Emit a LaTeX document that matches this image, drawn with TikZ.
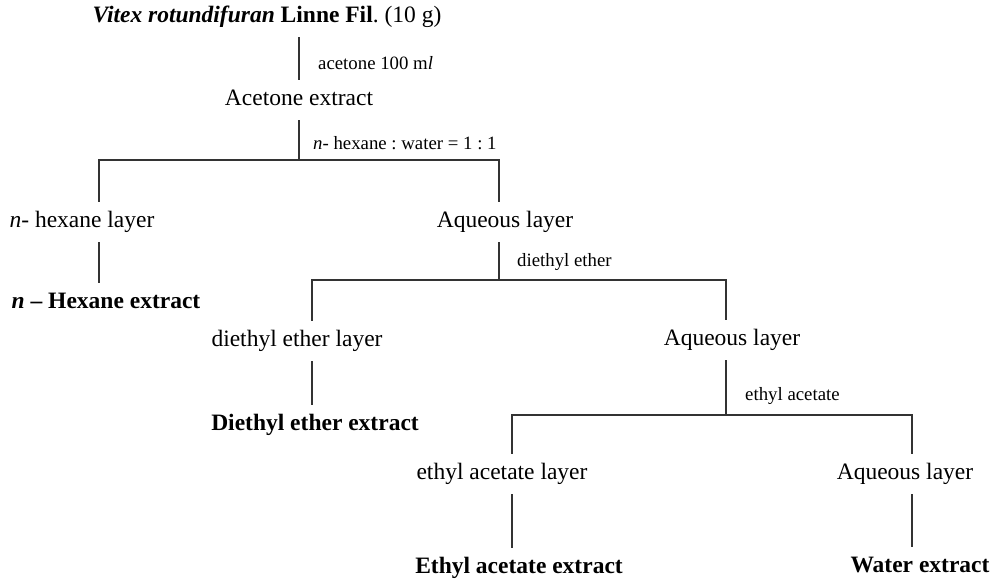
\documentclass[tikz,border=0pt]{standalone}
\usepackage{fontspec}
\setmainfont{Liberation Serif}
\frenchspacing
\begin{document}
\begin{tikzpicture}[x=1pt,y=-1pt,
  lbl/.style={inner xsep=0pt, inner ysep=9.5pt, text height=16pt, text depth=5pt,
              font=\fontsize{23.5}{28}\selectfont},
  note/.style={anchor=west, inner sep=0pt, font=\fontsize{18.8}{22}\selectfont},
  link/.style={line width=1.6pt, draw=black!80}]
\useasboundingbox (0,0) rectangle (991,583);

% stages of the separation
\node[lbl] (title) at (267,17) {\textbf{\textit{Vitex rotundifuran}} \textbf{Linne Fil}. (10 g)};
\node[lbl] (acet) at (299,100) {Acetone extract};
\node[lbl] (hexl) at (82,222) {\textit{n}- hexane layer};
\node[lbl] (aq1)  at (505,222) {Aqueous layer};
\node[lbl] (hexe) at (106,303) {\textbf{\textit{n} – Hexane extract}};
\node[lbl] (dell) at (297,341) {diethyl ether layer};
\node[lbl] (aq2)  at (732,340) {Aqueous layer};
\node[lbl] (dele) at (315,425) {\textbf{Diethyl ether extract}};
\node[lbl] (eal)  at (502,474) {ethyl acetate layer};
\node[lbl] (aq3)  at (905,474) {Aqueous layer};
\node[lbl] (eae)  at (519,568) {\textbf{Ethyl acetate extract}};
\node[lbl] (wate) at (920,567) {\textbf{Water extract}};

% solvents
\node[note] (s1) at (318,63)  {acetone 100 m\textit{l}};
\node[note] (s2) at (313,143) {\textit{n}- hexane : water = 1 : 1};
\node[note] (s3) at (517,262) {diethyl ether};
\node[note] (s4) at (745,396) {ethyl acetate};

% branch points
\coordinate (j1) at (299,160); \coordinate (j1l) at (99,160);  \coordinate (j1r) at (499,160);
\coordinate (j2) at (499,280); \coordinate (j2l) at (312,280); \coordinate (j2r) at (726,280);
\coordinate (j3) at (726,415); \coordinate (j3l) at (512,415); \coordinate (j3r) at (912,415);

\draw[link] (title.south -| acet) -- (acet.north);
\draw[link] (acet.south) -- (j1);
\draw[link] (hexl.north -| j1l) -- (j1l) -- (j1r) -- (aq1.north -| j1r);
\draw[link] (hexl.south -| j1l) -- (hexe.north -| j1l);
\draw[link] (aq1.south -| j1r) -- (j2);
\draw[link] (dell.north -| j2l) -- (j2l) -- (j2r) -- (aq2.north -| j2r);
\draw[link] (dell.south -| j2l) -- (dele.north -| j2l);
\draw[link] (aq2.south -| j2r) -- (j3);
\draw[link] (eal.north -| j3l) -- (j3l) -- (j3r) -- (aq3.north -| j3r);
\draw[link] (eal.south -| j3l) -- (eae.north -| j3l);
\draw[link] (aq3.south -| j3r) -- (wate.north -| j3r);
\end{tikzpicture}
\end{document}
